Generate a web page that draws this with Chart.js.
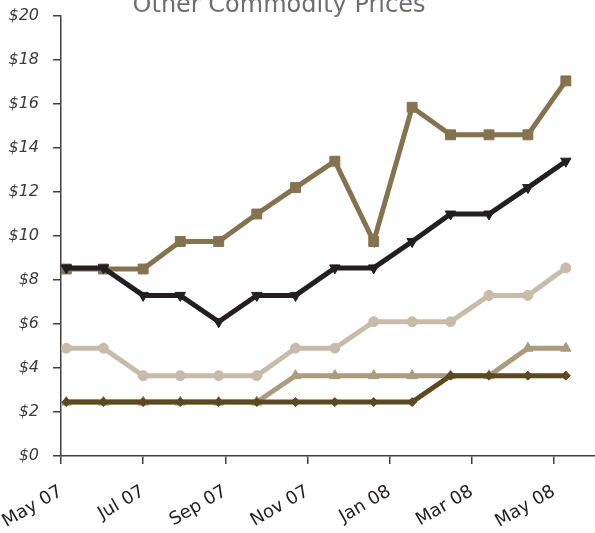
<!DOCTYPE html>
<html>
<head>
<meta charset="utf-8">
<script src="https://cdn.jsdelivr.net/npm/chart.js@4.4.0/dist/chart.umd.min.js"></script>
<style>
  html, body { margin: 0; padding: 0; background: #fff; }
  #wrap { width: 595px; height: 533px; position: relative; }
</style>
</head>
<body>
<div id="wrap"><canvas id="priceChart"></canvas></div>
<script>
// Sample dates (roughly every 4 weeks)
const pointDates = ['2007-05-05', '2007-06-02', '2007-07-01', '2007-07-29', '2007-08-27', '2007-09-24', '2007-10-23',
    '2007-11-21', '2007-12-20', '2008-01-18', '2008-02-15', '2008-03-14', '2008-04-12', '2008-05-10'];

// Axis ticks: months since May 2007
const monthTicks = [0, 2, 4, 6, 8, 10, 12];
const tickLabels = ['May 07', 'Jul 07', 'Sep 07', 'Nov 07', 'Jan 08', 'Mar 08', 'May 08'];

// Series values ($)
const squareSeries = [8.5, 8.5, 8.5, 9.75, 9.75, 11, 12.2, 13.4, 9.75, 15.85, 14.6, 14.6, 14.6, 17.05];
const blackSeries = [8.55, 8.55, 7.3, 7.3, 6.1, 7.3, 7.3, 8.55, 8.55, 9.75, 11, 11, 12.2, 13.4];
const circleSeries = [4.9, 4.9, 3.65, 3.65, 3.65, 3.65, 4.9, 4.9, 6.1, 6.1, 6.1, 7.3, 7.3, 8.55];
const triangleSeries = [2.45, 2.45, 2.45, 2.45, 2.45, 2.45, 3.65, 3.65, 3.65, 3.65, 3.65, 3.65, 4.9, 4.9];
const diamondSeries = [2.45, 2.45, 2.45, 2.45, 2.45, 2.45, 2.45, 2.45, 2.45, 2.45, 3.65, 3.65, 3.65, 3.65];

// Convert a date string to fractional months since 1 May 2007
const toMonths = (str) => {
    const [y, m, d] = str.split('-').map(Number);
    const daysInMonth = new Date(y, m, 0).getDate();
    return (y - 2007) * 12 + (m - 5) + (d - 1) / daysInMonth;
};

const toPoints = (values) => values.map((v, i) => ({ x: toMonths(pointDates[i]), y: v }));

const makeSeries = (label, values, color, style, radius, extra) => Object.assign({
    label: label,
    data: toPoints(values),
    borderColor: color,
    backgroundColor: color,
    pointBackgroundColor: color,
    pointBorderColor: color,
    borderWidth: 5,
    pointStyle: style,
    pointRadius: radius,
    pointBorderWidth: 1,
    tension: 0
}, extra || {});

// Title sits partly above the canvas, as in the original
const titlePlugin = {
    id: 'clippedTitle',
    afterDraw: (chart) => {
        const ctx = chart.ctx;
        ctx.save();
        ctx.font = '24px "DejaVu Sans", sans-serif';
        ctx.fillStyle = '#6d6e71';
        ctx.textAlign = 'center';
        ctx.textBaseline = 'alphabetic';
        ctx.fillText('Other Commodity Prices', 279, 12);
        ctx.restore();
    }
};

const ctx = document.getElementById('priceChart').getContext('2d');
new Chart(ctx, {
    type: 'line',
    data: {
        datasets: [
            makeSeries('Series 5', diamondSeries, '#5b4a1f', 'rectRot', 4.5),
            makeSeries('Series 2', blackSeries, '#231f20', 'triangle', 6, { pointRotation: 180 }),
            makeSeries('Series 3', circleSeries, '#c8bba9', 'circle', 5),
            makeSeries('Series 4', triangleSeries, '#ab9b80', 'triangle', 6),
            makeSeries('Series 1', squareSeries, '#85724e', 'rect', 7)
        ]
    },
    options: {
        responsive: true,
        maintainAspectRatio: false,
        animation: false,
        layout: { autoPadding: false, padding: { top: 16, right: 0, left: 0, bottom: 0 } },
        plugins: {
            legend: { display: false },
            tooltip: { enabled: false },
            title: { display: false }
        },
        scales: {
            x: {
                type: 'linear',
                min: 0,
                max: 13,
                afterBuildTicks: (scale) => { scale.ticks = monthTicks.map(v => ({ value: v })); },
                afterFit: (scale) => { scale.height = 77; scale.paddingRight = 0; scale.paddingLeft = 0; },
                ticks: {
                    autoSkip: false,
                    minRotation: 30,
                    maxRotation: 30,
                    padding: 17,
                    color: '#231f20',
                    font: { family: '"DejaVu Sans", sans-serif', size: 18 },
                    callback: (value) => tickLabels[monthTicks.indexOf(value)]
                },
                grid: { drawOnChartArea: false, drawTicks: true, tickLength: 8, color: '#404040', lineWidth: 1.5 },
                border: { display: true, color: '#404040', width: 1.5 }
            },
            y: {
                min: 0,
                max: 20,
                afterFit: (scale) => { scale.width = 61; scale.paddingTop = 0; scale.paddingBottom = 0; },
                ticks: {
                    stepSize: 2,
                    padding: 14,
                    color: '#3a3a3a',
                    font: { family: '"DejaVu Sans", sans-serif', size: 16, style: 'italic' },
                    callback: (value) => '$' + value
                },
                grid: { drawOnChartArea: false, drawTicks: true, tickLength: 8, color: '#404040', lineWidth: 1.5 },
                border: { display: true, color: '#404040', width: 1.5 }
            }
        }
    },
    plugins: [titlePlugin]
});
</script>
</body>
</html>
